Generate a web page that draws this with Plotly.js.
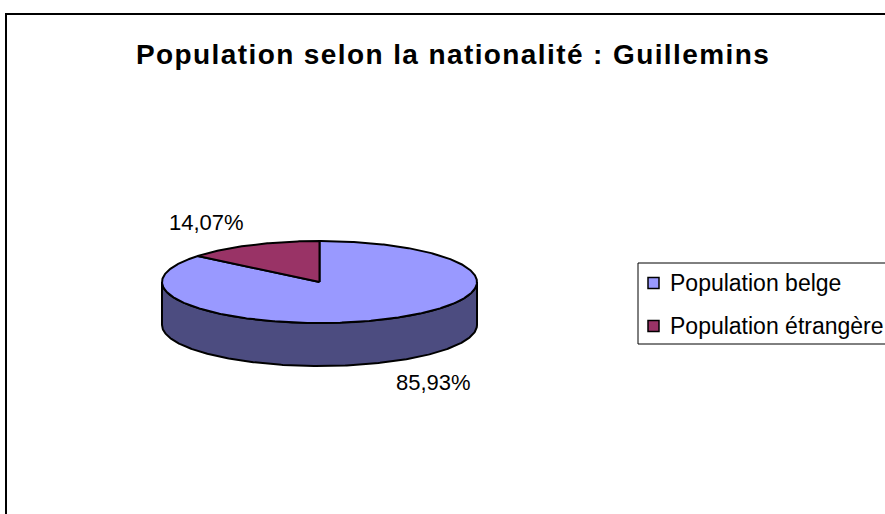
<!DOCTYPE html>
<html>
<head>
<meta charset="utf-8">
<script src="https://cdn.plot.ly/plotly-3.0.1.min.js"></script>
<style>
  html, body { margin: 0; padding: 0; background: #fff; }
  #chart { width: 885px; height: 514px; }
</style>
</head>
<body>
<div id="chart"></div>
<script>
// ---- data ----
const categories = ['Population belge', 'Population étrangère'];
const values = [85.93, 14.07];
const topColors = ['#9999FF', '#993366'];
const sideColors = ['#4C4C80', '#4C1933'];
const titleText = 'Population selon la nationalité : Guillemins';

// ---- layout geometry (pixels) ----
const W = 885, H = 514;
const cx = 319.5, cy = 282, rx = 157.5, ry = 41, depth = 43;
const labelPos = [[433, 382], [206, 222]];
const legendBox = {x0: 638, y0: 263, x1: 900, y1: 344};
const legendRows = [283, 326];
const FONT = 'Liberation Sans, Arial, sans-serif';

function pt(th, dy) {
  return [cx + rx * Math.sin(th), cy - ry * Math.cos(th) + (dy || 0)];
}
function arc(a0, a1, dy) {
  const n = Math.max(2, Math.ceil(Math.abs(a1 - a0) / 0.01));
  const xs = [], ys = [];
  for (let i = 0; i <= n; i++) {
    const p = pt(a0 + (a1 - a0) * i / n, dy);
    xs.push(p[0]); ys.push(p[1]);
  }
  return [xs, ys];
}

const total = values.reduce((a, b) => a + b, 0);
const sides = [], tops = [], annotations = [];
let start = 0;
values.forEach((v, i) => {
  const a0 = start, a1 = start + v / total * 2 * Math.PI;
  start = a1;
  // visible side part: between PI/2 and 3PI/2
  const s0 = Math.max(a0, Math.PI / 2), s1 = Math.min(a1, 3 * Math.PI / 2);
  if (s1 > s0) {
    const [tx, ty] = arc(s0, s1, 0);
    const [bx, by] = arc(s1, s0, depth);
    sides.push({
      type: 'scatter', mode: 'lines', x: tx.concat(bx, [tx[0]]), y: ty.concat(by, [ty[0]]),
      fill: 'toself', fillcolor: sideColors[i],
      line: {color: '#000', width: 2}, hoverinfo: 'skip', showlegend: false
    });
  }
  const [ax, ay] = arc(a0, a1, 0);
  tops.push({
    type: 'scatter', mode: 'lines', x: [cx].concat(ax, [cx]), y: [cy].concat(ay, [cy]),
    fill: 'toself', fillcolor: topColors[i], name: categories[i],
    line: {color: '#000', width: 2}, hoverinfo: 'skip', showlegend: false
  });
  annotations.push({
    x: labelPos[i][0], y: labelPos[i][1], xref: 'x', yref: 'y',
    text: (v / total * 100).toFixed(2).replace('.', ',') + '%',
    showarrow: false, xanchor: 'center', yanchor: 'middle',
    font: {family: FONT, size: 22, color: '#000'}
  });
});

const shapes = [
  {type: 'rect', xref: 'x', yref: 'y', x0: 6, y0: 14, x1: 920, y1: 540,
   line: {color: '#000', width: 2}, fillcolor: 'rgba(0,0,0,0)', layer: 'below'},
  {type: 'rect', xref: 'x', yref: 'y', x0: legendBox.x0, y0: legendBox.y0, x1: legendBox.x1, y1: legendBox.y1,
   line: {color: '#000', width: 1}, fillcolor: 'rgba(0,0,0,0)'}
];
categories.forEach((c, i) => {
  const yc = legendRows[i];
  shapes.push({type: 'rect', xref: 'x', yref: 'y', x0: 648, x1: 659, y0: yc - 5.5, y1: yc + 5.5,
    line: {color: '#000', width: 1.5}, fillcolor: topColors[i]});
  annotations.push({x: 668, y: yc, xref: 'x', yref: 'y', text: c, showarrow: false,
    xanchor: 'left', yanchor: 'middle', font: {family: FONT, size: 23, color: '#000'}});
});
annotations.push({
  x: 453, y: 54, xref: 'x', yref: 'y', showarrow: false, xanchor: 'center', yanchor: 'middle',
  text: '<b><span style="letter-spacing:1.4px">' + titleText + '</span></b>',
  font: {family: FONT, size: 28, color: '#000'}
});

const layout = {
  width: W, height: H,
  margin: {l: 0, r: 0, t: 0, b: 0},
  paper_bgcolor: '#fff', plot_bgcolor: '#fff',
  xaxis: {range: [0, W], visible: false, fixedrange: true},
  yaxis: {range: [H, 0], visible: false, fixedrange: true},
  showlegend: false,
  shapes: shapes,
  annotations: annotations
};
Plotly.newPlot('chart', sides.concat(tops), layout, {displayModeBar: false, staticPlot: true});
</script>
</body>
</html>
